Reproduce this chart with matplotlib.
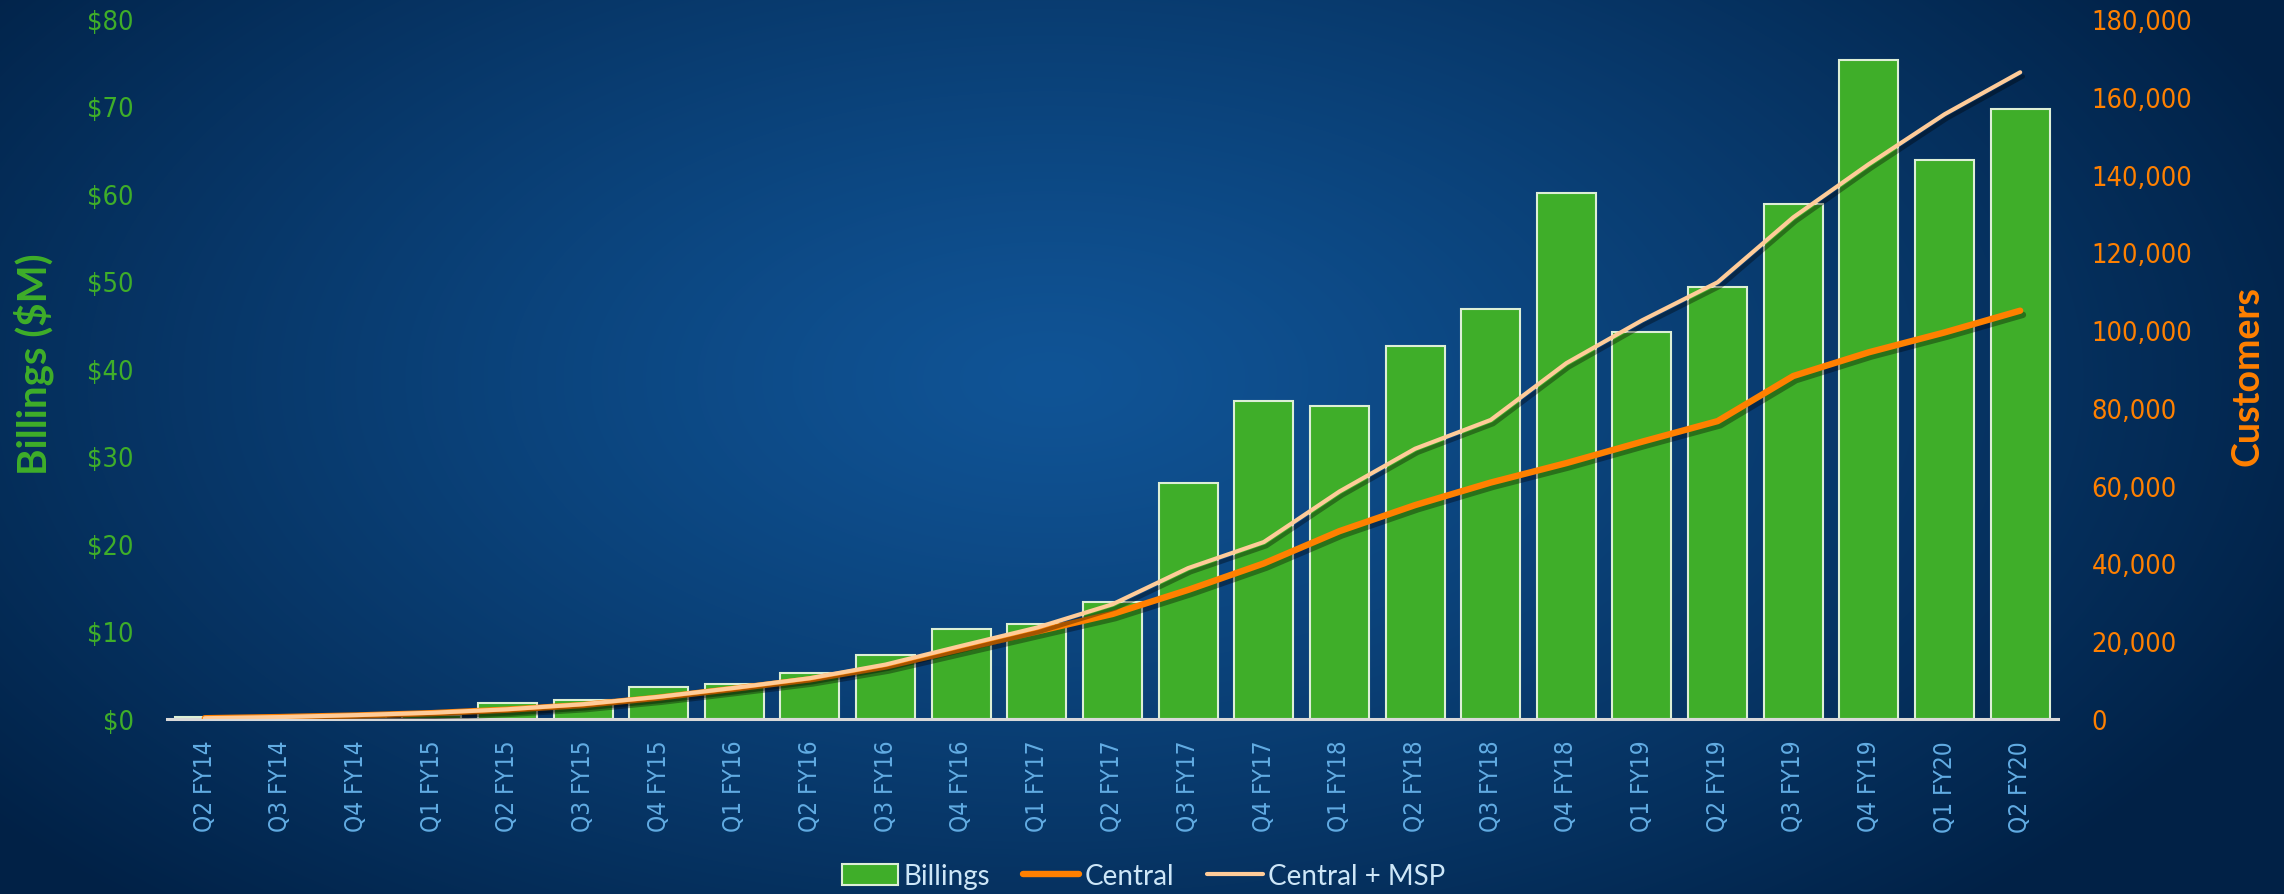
import numpy as np
import matplotlib
matplotlib.use("Agg")
import matplotlib.pyplot as plt
import matplotlib.patheffects as pe
from matplotlib.ticker import FuncFormatter, MultipleLocator
from matplotlib.patches import Patch
from matplotlib.lines import Line2D

plt.rcParams["font.family"] = ["DejaVu Sans"]
plt.rcParams["font.stretch"] = "condensed"

quarters = ["Q2 FY14", "Q3 FY14", "Q4 FY14", "Q1 FY15", "Q2 FY15", "Q3 FY15", "Q4 FY15",
            "Q1 FY16", "Q2 FY16", "Q3 FY16", "Q4 FY16", "Q1 FY17", "Q2 FY17", "Q3 FY17",
            "Q4 FY17", "Q1 FY18", "Q2 FY18", "Q3 FY18", "Q4 FY18", "Q1 FY19", "Q2 FY19",
            "Q3 FY19", "Q4 FY19", "Q1 FY20", "Q2 FY20"]

billings = [0.2, 0.2, 0.3, 0.5, 1.8, 2.2, 3.7, 4.0, 5.3, 7.3, 10.3, 10.9, 13.4, 27.0,
            36.3, 35.8, 42.6, 46.9, 60.1, 44.2, 49.4, 58.9, 75.3, 63.9, 69.7]

central = [200, 500, 900, 1500, 2400, 3600, 5500, 7800, 10200, 13500, 18000, 22500,
           27000, 33200, 40000, 48300, 55000, 60800, 65800, 71300, 76600, 88200,
           94300, 99400, 105000]

central_msp = [200, 500, 1000, 1600, 2500, 3800, 5700, 8000, 10500, 14000, 18800, 23500,
               29500, 38800, 45500, 58500, 69500, 76900, 91500, 102500, 112300, 129000,
               142700, 155500, 166300]

W, H = 2284, 895
fig = plt.figure(figsize=(W / 100, H / 100), dpi=100)

# radial gradient background
bg = fig.add_axes([0, 0, 1, 1], zorder=-10)
yy, xx = np.mgrid[0:H, 0:W]
cx, cy = 1050, 380
r = np.sqrt(((xx - cx) / 1350.0) ** 2 + ((yy - cy) / 720.0) ** 2)
r = np.clip(r, 0, 1) ** 1.2
c_in = np.array([0x10, 0x54, 0x96]) / 255.0
c_out = np.array([0x01, 0x21, 0x46]) / 255.0
img = c_in[None, None, :] * (1 - r[..., None]) + c_out[None, None, :] * r[..., None]
bg.imshow(img, aspect="auto", extent=[0, 1, 0, 1], origin="upper")
bg.axis("off")

left, right = 167 / W, 2058 / W
bottom, top = 1 - 720 / H, 1 - 20 / H
ax = fig.add_axes([left, bottom, right - left, top - bottom])
ax.patch.set_alpha(0)
ax2 = ax.twinx()
ax2.patch.set_alpha(0)

x = np.arange(len(quarters))
green = "#3FAE29"
orange = "#FF8000"
peach = "#FFCC99"

ax.bar(x, billings, width=0.78, color=green, edgecolor="#DDEFD6", linewidth=1.5, zorder=2)
ax.set_xlim(-0.5, len(quarters) - 0.5)
ax.set_ylim(0, 80)
ax.yaxis.set_major_locator(MultipleLocator(10))
ax.yaxis.set_major_formatter(FuncFormatter(lambda v, p: f"${v:.0f}"))

shadow = [pe.SimpleLineShadow(offset=(2, -3), shadow_color="black", alpha=0.35), pe.Normal()]
ax2.plot(x, central, color=orange, lw=4.6, solid_capstyle="round", solid_joinstyle="round",
         path_effects=shadow, zorder=3)
ax2.plot(x, central_msp, color=peach, lw=3.0, solid_capstyle="round", solid_joinstyle="round",
         path_effects=shadow, zorder=4)
ax2.set_ylim(0, 180000)
ax2.yaxis.set_major_locator(MultipleLocator(20000))
ax2.yaxis.set_major_formatter(FuncFormatter(lambda v, p: f"{v:,.0f}"))

ax.set_xticks(x)
ax.set_xticklabels(quarters, rotation=90, fontsize=17.5, color="#62ACE3")
ax.tick_params(axis="x", length=0, pad=15)
ax.tick_params(axis="y", length=0, pad=24, labelcolor=green, labelsize=19.5)
ax2.tick_params(axis="y", length=0, pad=24, labelcolor=orange, labelsize=19.5)

for a in (ax, ax2):
    for s in ("top", "left", "right", "bottom"):
        a.spines[s].set_visible(False)
ax.spines["bottom"].set_visible(True)
ax.spines["bottom"].set_color("#D9D9D9")
ax.spines["bottom"].set_linewidth(2.2)
ax.spines["bottom"].set_zorder(5)

fig.text(34 / W, 1 - 364 / H, "Billings ($M)", rotation=90, ha="center", va="center",
         fontsize=29, fontweight="bold", color=green, family="Lato", fontstretch="normal")
fig.text(2247 / W, 1 - 376 / H, "Customers", rotation=90, ha="center", va="center",
         fontsize=27, fontweight="bold", color=orange, family="Lato", fontstretch="normal")

handles = [Patch(facecolor=green, edgecolor="#DDEFD6", linewidth=1.5),
           Line2D([0], [0], color=orange, lw=4.6, solid_capstyle="round"),
           Line2D([0], [0], color=peach, lw=3.0, solid_capstyle="round")]
leg = fig.legend(handles, ["Billings", "Central", "Central + MSP"], loc="center",
                 bbox_to_anchor=(1144 / W, 1 - 877 / H), ncol=3, frameon=False,
                 prop={"family": "Lato", "size": 20, "stretch": "normal"},
                 handlelength=2.0, handleheight=0.8,
                 handletextpad=0.2, columnspacing=1.2, labelcolor="#CDE6F7")

fig.savefig("out.png", dpi=100)
